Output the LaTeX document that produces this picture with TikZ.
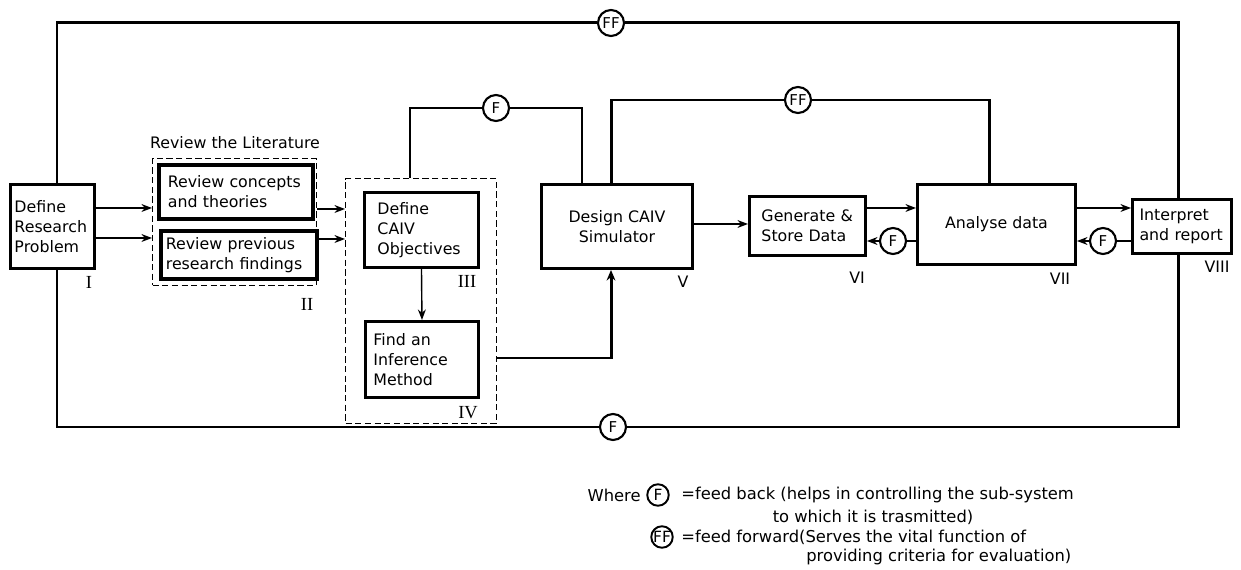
\documentclass[tikz,border=0pt]{standalone}
\usepackage{fontspec}
\setmainfont{DejaVu Sans}
\newfontfamily\romfont{Liberation Serif}
\usetikzlibrary{arrows.meta}
\newcommand{\txt}{\fontsize{9}{11.3}\selectfont}
\newcommand{\lgd}{\fontsize{9.3}{11}\selectfont}
\begin{document}
\begin{tikzpicture}[x=0.02cm,y=-0.02cm,
  bx/.style={draw, line width=1.7pt, anchor=north west, inner sep=0pt, font=\txt},
  grp/.style={draw, dashed, dash pattern=on 3.5pt off 2pt, line width=0.6pt, anchor=north west, inner sep=0pt},
  rom/.style={font=\romfont\fontsize{10.5}{10.5}\selectfont, inner sep=0pt},
  sno/.style={font=\txt, inner sep=0pt},
  circ/.style={draw, circle, line width=1.2pt, fill=white, minimum size=0.52cm, inner sep=0pt, font=\fontsize{8.5}{8.5}\selectfont},
  lcirc/.style={draw, circle, line width=1.1pt, fill=white, minimum size=0.43cm, inner sep=0pt, font=\fontsize{8.8}{8.8}\selectfont},
  thk/.style={line width=1.7pt},
  thn/.style={line width=0.8pt},
  arr/.style={line width=0.8pt, -{Stealth[length=6pt,width=4.5pt]}},
  tarr/.style={line width=1.7pt, -{Stealth[length=6pt,width=5pt]}}
]
\useasboundingbox[fill=white] (0,0) rectangle (1241,570);

% boxes
\node[bx, minimum width=1.68cm, minimum height=1.68cm, text width=1.52cm, align=left] (I) at (9,183) {Define\\Research\\Problem};
\node[grp, minimum width=3.28cm, minimum height=2.54cm] (G2) at (152,158) {};
\node[bx, line width=2.1pt, minimum width=3.08cm, minimum height=1.08cm, text width=2.72cm, align=left] (R1) at (157,163) {Review concepts\\and theories};
\node[bx, line width=2.1pt, minimum width=3.12cm, minimum height=0.96cm, text width=2.92cm, align=left] (R2) at (159,229) {Review previous\\research findings};
\node[sno] (RL) at (235,143) {\txt Review the Literature};

\node[grp, minimum width=3.02cm, minimum height=4.90cm] (G3) at (345,178) {};
\node[bx, minimum width=2.28cm, minimum height=1.50cm, text width=1.76cm, align=left] (III) at (363,191) {Define\\CAIV\\Objectives};
\node[bx, minimum width=2.26cm, minimum height=1.52cm, text width=1.94cm, align=left] (IV) at (364,320) {Find an\\Inference\\Method};

\node[bx, minimum width=3.02cm, minimum height=1.68cm, align=center] (V) at (540,183) {Design CAIV\\Simulator};
\node[bx, minimum width=2.32cm, minimum height=1.18cm, text width=1.84cm, align=left] (VI) at (748,195) {Generate \&\\Store Data};
\node[bx, minimum width=3.16cm, minimum height=1.60cm, align=center] (VII) at (916,183) {Analyse data};
\node[bx, minimum width=1.98cm, minimum height=1.08cm, text width=1.70cm, align=left] (VIII) at (1131,198) {Interpret\\and report};

% roman labels
\node[rom] (lI) at (89,282) {I};
\node[rom] (lII) at (307,304) {II};
\node[rom] (lIII) at (467,281) {III};
\node[rom] (lIV) at (468,413) {IV};
\node[sno] (lV) at (683,282) {V};
\node[sno] (lVI) at (857,278) {VI};
\node[sno] (lVII) at (1060,279) {VII};
\node[sno] (lVIII) at (1217,267) {VIII};

% circles
\node[circ] (FFt) at (611,23) {FF};
\node[circ] (Fbot) at (613,427) {F};
\node[circ] (Fa) at (496,108) {F};
\node[circ] (FFm) at (798,100) {FF};
\node[circ] (Fb) at (893,241) {F};
\node[circ] (Fc) at (1103,241) {F};

% outer loop
\draw[thk] (I.north -| 57,0) |- (FFt.west);
\draw[thk] (FFt.east) -| (VIII.north -| 1178,0);
\draw[thk] (I.south -| 57,0) |- (Fbot.west);
\draw[thk] (Fbot.east) -| (VIII.south -| 1178,0);

% inner arrows
\draw[arr] (I.east |- 0,208) -- (G2.west |- 0,208);
\draw[arr] (I.east |- 0,238) -- (G2.west |- 0,238);
\draw[arr] (G2.east |- 0,209) -- (G3.west |- 0,209);
\draw[arr] (G2.east |- 0,239) -- (G3.west |- 0,239);
\draw[arr] (III.south) -- (IV.north);

\draw[thk] (G3.north -| 410,0) |- (Fa.west);
\draw[thk] (Fa.east) -| (V.north -| 582,0);
\draw[thk] (V.north -| 611,0) |- (FFm.west);
\draw[thk] (FFm.east) -| (VII.north -| 989,0);
\draw[tarr] (G3.east |- 0,358) -| (V.south -| 611,0);

\draw[arr] (V.east |- 0,224) -- (VI.west |- 0,224);
\draw[arr] (VI.east |- 0,208) -- (VII.west |- 0,208);
\draw[thn] (VII.west |- 0,241) -- (Fb.east);
\draw[arr] (Fb.west) -- (VI.east |- 0,241);
\draw[arr] (VII.east |- 0,208) -- (VIII.west |- 0,208);
\draw[thn] (VIII.west |- 0,241) -- (Fc.east);
\draw[arr] (Fc.west) -- (VII.east |- 0,241);

% legend
\node[lcirc] (LF) at (658,495) {F};
\node[lcirc] (LFF) at (662,537) {FF};
\node[font=\lgd, inner sep=0pt, anchor=east] (Lw) at (641,495) {Where};
\node[font=\lgd, inner sep=0pt, anchor=west] (L1) at (681,495) {=feed back (helps in controlling the sub-system};
\node[font=\lgd, inner sep=0pt] (L2) at (873,517) {to which it is trasmitted)};
\node[font=\lgd, inner sep=0pt, anchor=west] (L3) at (681,537) {=feed forward(Serves the vital function of};
\node[font=\lgd, inner sep=0pt, anchor=west] (L4) at (806,557) {providing criteria for evaluation)};
\end{tikzpicture}
\end{document}
